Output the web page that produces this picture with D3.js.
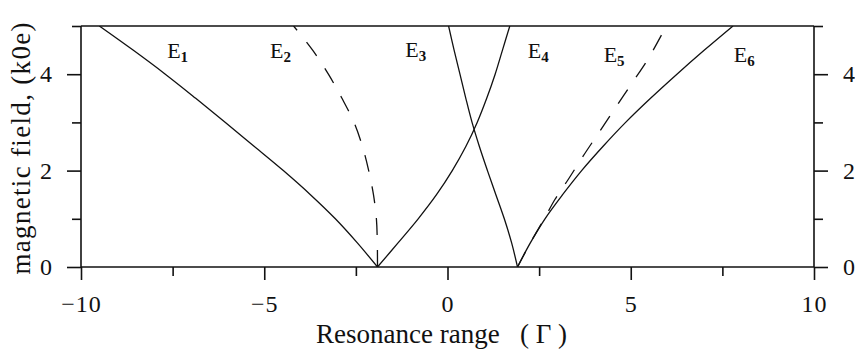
<!DOCTYPE html>
<html>
<head>
<meta charset="utf-8">
<script src="https://cdn.jsdelivr.net/npm/d3@7"></script>
<style>
  body { margin: 0; background: #fff; }
  svg text { fill: #111; }
</style>
</head>
<body>
<svg id="chart" width="855" height="355"></svg>
<script>
// Axis ticks
const xMajorTicks = [-10, -5, 0, 5, 10];
const xMinorTicks = [-7.5, -2.5, 2.5, 7.5];
const yMajorTicks = [0, 2, 4];
const yMinorTicks = [1, 3, 5];

// Level curves: [resonance range (Γ), magnetic field (kOe)]
const e1 = [[-1.91, 0], [-2.46, 0.5], [-3.06, 1.0], [-3.74, 1.5], [-4.48, 2.0], [-5.27, 2.5],
            [-6.06, 3.0], [-6.87, 3.5], [-7.7, 4.0], [-8.58, 4.5], [-9.5, 5.0]];
const e2 = [[-1.91, 0], [-1.915, 0.5], [-1.94, 1.0], [-2.02, 1.5], [-2.15, 2.0], [-2.32, 2.5],
            [-2.55, 3.0], [-2.88, 3.5], [-3.25, 4.0], [-3.68, 4.5], [-4.2, 5.0]];
const e3 = [[-1.91, 0], [-1.35, 0.5], [-0.8, 1.0], [-0.3, 1.5], [0.13, 2.0], [0.5, 2.5],
            [0.81, 3.0], [1.07, 3.5], [1.3, 4.0], [1.5, 4.5], [1.7, 5.0]];
const e4 = [[1.91, 0], [1.75, 0.5], [1.55, 1.0], [1.32, 1.5], [1.09, 2.0], [0.87, 2.5],
            [0.67, 3.0], [0.5, 3.5], [0.34, 4.0], [0.18, 4.5], [0.03, 5.0]];
const e5 = [[1.91, 0], [2.26, 0.5], [2.64, 1.0], [2.93, 1.4], [3.28, 1.8], [3.7, 2.3],
            [4.14, 2.8], [4.58, 3.3], [5.02, 3.8], [5.46, 4.3], [5.9, 4.9]];
const e6 = [[1.91, 0], [2.26, 0.5], [2.66, 1.0], [3.14, 1.5], [3.66, 2.0], [4.24, 2.5],
            [4.86, 3.0], [5.54, 3.5], [6.26, 4.0], [7.01, 4.5], [7.79, 5.0]];

const levelNames = ["1", "2", "3", "4", "5", "6"];
const levelData = [e1, e2, e3, e4, e5, e6];
const levelDashed = [false, true, false, false, true, false];
// Where each level's name sits, in data units (Γ, kOe)
const labelAt = [[-7.65, 4.34], [-4.84, 4.34], [-1.15, 4.36], [2.19, 4.34], [4.26, 4.25], [7.81, 4.25]];

const svg = d3.select("#chart");
const x = d3.scaleLinear().domain([-10, 10]).range([81, 814]);
const y = d3.scaleLinear().domain([0, 5]).range([267, 26]);

const serif = "'Liberation Serif', 'Times New Roman', serif";
const ink = "#111";

svg.append("clipPath").attr("id", "plot")
  .append("rect").attr("x", x(-10)).attr("y", y(5))
  .attr("width", x(10) - x(-10)).attr("height", y(0) - y(5));

// Curves
const line = d3.line().x(d => x(d[0])).y(d => y(d[1])).curve(d3.curveCatmullRom.alpha(0.5));
levelData.forEach((pts, i) => {
  svg.append("path")
    .attr("d", line(pts))
    .attr("fill", "none")
    .attr("stroke", ink)
    .attr("stroke-width", 1.3)
    .attr("stroke-dasharray", levelDashed[i] ? "17,15" : null)
    .attr("clip-path", "url(#plot)");
});

function styleAxis(g) {
  g.select(".domain").remove();
  g.selectAll("line").attr("stroke", ink).attr("stroke-width", 1.6);
  g.selectAll("text").attr("font-family", serif).attr("font-size", 24)
    .attr("letter-spacing", 1).attr("fill", ink);
}
const minusFmt = d => (d < 0 ? "\u2212" + Math.abs(d) : String(d));

// Bottom axis
svg.append("g").attr("transform", `translate(0,${y(0)})`)
  .call(d3.axisBottom(x).tickValues(xMajorTicks).tickSize(13).tickPadding(15).tickFormat(minusFmt))
  .call(styleAxis);
svg.append("g").attr("transform", `translate(0,${y(0)})`)
  .call(d3.axisBottom(x).tickValues(xMinorTicks).tickSize(9).tickFormat(""))
  .call(styleAxis);

// Left axis
svg.append("g").attr("transform", `translate(${x(-10)},0)`)
  .call(d3.axisLeft(y).tickValues(yMajorTicks).tickSize(14).tickPadding(14).tickFormat(d3.format("d")))
  .call(styleAxis);
svg.append("g").attr("transform", `translate(${x(-10)},0)`)
  .call(d3.axisLeft(y).tickValues(yMinorTicks).tickSize(9).tickFormat(""))
  .call(styleAxis);

// Right axis
svg.append("g").attr("transform", `translate(${x(10)},0)`)
  .call(d3.axisRight(y).tickValues(yMajorTicks).tickSize(14).tickPadding(15).tickFormat(d3.format("d")))
  .call(styleAxis);
svg.append("g").attr("transform", `translate(${x(10)},0)`)
  .call(d3.axisRight(y).tickValues(yMinorTicks).tickSize(9).tickFormat(""))
  .call(styleAxis);

// Frame
const frame = svg.append("g").attr("stroke", ink).attr("stroke-width", 1.6).attr("fill", "none");
frame.append("line").attr("x1", x(-10)).attr("x2", x(10)).attr("y1", y(0)).attr("y2", y(0));
frame.append("line").attr("x1", x(-10)).attr("x2", x(10)).attr("y1", y(5)).attr("y2", y(5));
frame.append("line").attr("x1", x(-10)).attr("x2", x(-10)).attr("y1", y(5)).attr("y2", y(0));
frame.append("line").attr("x1", x(10)).attr("x2", x(10)).attr("y1", y(5)).attr("y2", y(0));

// Level names
labelAt.forEach((p, i) => {
  const t = svg.append("text")
    .attr("x", x(p[0])).attr("y", y(p[1]))
    .attr("font-family", serif).attr("font-size", 22);
  t.append("tspan").text("E");
  t.append("tspan").attr("font-size", 15).attr("font-weight", "bold").attr("dy", 4).text(levelNames[i]);
});

// Axis titles
svg.append("text")
  .attr("transform", `translate(30,${(y(0) + y(5)) / 2 + 2}) rotate(-90)`)
  .attr("text-anchor", "middle")
  .attr("font-family", serif).attr("font-size", 27)
  .attr("textLength", 252).attr("lengthAdjust", "spacing")
  .text("magnetic field, (k0e)");

svg.append("text")
  .attr("x", 316).attr("y", 343)
  .attr("font-family", serif).attr("font-size", 27)
  .style("white-space", "pre")
  .text("Resonance range   ( \u0393 )");
</script>
</body>
</html>
